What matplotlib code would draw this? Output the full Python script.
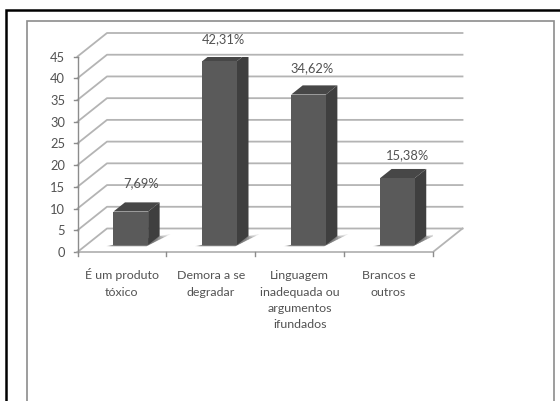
import numpy as np
import matplotlib
matplotlib.use('Agg')
import matplotlib.pyplot as plt
from matplotlib.patches import Polygon, Rectangle

# respostas e percentuais
categorias = ['É um produto\ntóxico', 'Demora a se\ndegradar',
              'Linguagem\ninadequada ou\nargumentos\nifundados', 'Brancos e\noutros']
valores = [7.69, 42.31, 34.62, 15.38]
rotulos = ['7,69%', '42,31%', '34,62%', '15,38%']
ticks_y = [0, 5, 10, 15, 20, 25, 30, 35, 40, 45]

# deslocamento de cada rotulo em relacao ao topo da barra (pontos)
desl_rotulos = [(7.5, 21.5), (2.5, 16.5), (2.5, 19.5), (7, 17.5)]

W, H = 560, 402
plt.rcParams['font.family'] = ['Lato', 'DejaVu Sans']
cor_texto = '#525252'

fig = plt.figure(figsize=(W / 100, H / 100), dpi=100)

# frame layer in pixel coordinates
bg = fig.add_axes([0, 0, 1, 1])
bg.set_xlim(0, W)
bg.set_ylim(H, 0)
bg.axis('off')
bg.plot([5.5, 5.5, W], [H, 10.5, 10.5], color='black', lw=1.8, solid_joinstyle='miter')
bg.plot([26.5, 26.5, 553.5, 553.5], [H, 21.5, 21.5, H], color='#8c8c8c', lw=1.2, solid_joinstyle='miter')

# plot box: front edge of the floor and the 0-45 scale
x0, x1, y0, y1 = 77.5, 433, 253, 57.5
ax = fig.add_axes([x0 / W, 1 - y0 / H, (x1 - x0) / W, (y0 - y1) / H])
ax.set_xlim(0, 4)
ax.set_ylim(0, 45)
ax.axis('off')

# depth offset of the back wall, in data units
dx = 29.5 / ((x1 - x0) / 4)
dy = 23.5 / ((y0 - y1) / 45)


def p(x, y, d=0.0):
    return (x + d * dx, y + d * dy)


grid = '#b4b4b4'
for t in ticks_y:
    xs, ys = zip(p(0, t), p(0, t, 1), p(4, t, 1))
    ax.plot(xs, ys, color=grid, lw=1.3, clip_on=False, zorder=1)
    xs, ys = zip(p(-0.04, t), p(0, t))
    ax.plot(xs, ys, color='#8c8c8c', lw=1.0, clip_on=False, zorder=1)
    ax.text(-0.14, t, str(t), ha='right', va='center', fontsize=9.3, color=cor_texto, clip_on=False)

# floor and front axis
xs, ys = zip(p(4, 0, 1), p(4, 0), p(0, 0))
ax.plot(xs, ys, color=grid, lw=1.3, clip_on=False, zorder=1)
ax.plot([0, 0], [0, 45], color='#8c8c8c', lw=1.0, clip_on=False, zorder=1)
for i in range(5):
    ax.plot([i, i], [0, -0.9], color='#8c8c8c', lw=1.0, clip_on=False, zorder=1)

# bars: front face, side face, top face and a soft shadow on the floor
largura = 0.39
d0, d1 = 0.30, 0.69
for i, v in enumerate(valores):
    a = i + 0.5 - largura / 2
    b = i + 0.5 + largura / 2
    for k, alpha in zip([1.0, 0.85, 0.7, 0.55, 0.4, 0.25], [0.16, 0.2, 0.24, 0.28, 0.3, 0.3]):
        ax.add_patch(Polygon([p(a - 0.07 * k, 0, d0 - 0.05), p(b, 0, d0 - 0.05),
                              p(b + 0.1 * k, 0, d0 + 0.46 * k), p(b, 0, d1)],
                             closed=True, fc='#5c5c5c', ec='none', alpha=alpha, zorder=2))
    ax.add_patch(Polygon([p(b, 0, d0), p(b, 0, d1), p(b, v, d1), p(b, v, d0)],
                         closed=True, fc='#3f3f3f', ec='none', zorder=3))
    ax.add_patch(Polygon([p(a, v, d0), p(b, v, d0), p(b, v, d1), p(a, v, d1)],
                         closed=True, fc='#474747', ec='none', zorder=3))
    xa, ya = p(a, 0, d0)
    xb, yb = p(b, v, d0)
    ax.add_patch(Rectangle((xa, ya), xb - xa, yb - ya, fc='#5a5a5a', ec='none', zorder=4))
    # rotulo de dados
    ax.annotate(rotulos[i], xy=p(i + 0.5, v, d0), xytext=desl_rotulos[i], textcoords='offset points',
                ha='center', va='center', fontsize=9.3, color=cor_texto,
                annotation_clip=False, zorder=5)
    # categoria, uma linha por vez para manter o espacamento fixo
    for j, linha in enumerate(categorias[i].split('\n')):
        ax.annotate(linha, xy=(i + 0.5, 0), xytext=(0, -19 - 11.75 * j), textcoords='offset points',
                    ha='center', va='baseline', fontsize=8.9, color=cor_texto,
                    annotation_clip=False)

fig.savefig('out.png', dpi=100, facecolor='white')
